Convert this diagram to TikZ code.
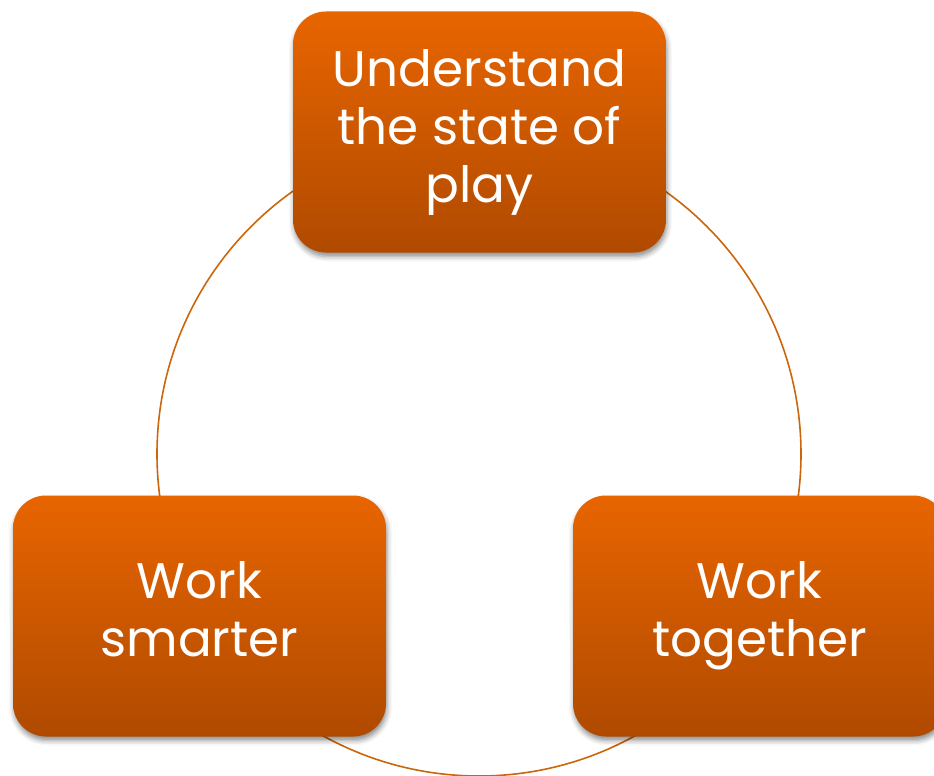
\documentclass[tikz,border=0pt]{standalone}
\usepackage{fontspec}
\setmainfont{Poppins}
\usetikzlibrary{shadows.blur}
\definecolor{boxtop}{RGB}{232,101,0}
\definecolor{boxbot}{RGB}{176,74,0}
\definecolor{ringcol}{RGB}{204,102,10}
\tikzset{
  cyclebox/.style={rectangle, rounded corners=33pt, minimum width=373pt, minimum height=241pt,
    inner sep=0pt, top color=boxtop, bottom color=boxbot, text=white, align=center,
    font=\fontsize{50}{58}\selectfont,
    blur shadow={shadow xshift=1pt, shadow yshift=-4pt, shadow blur radius=5pt, shadow opacity=45}},
  ring/.style={draw=ringcol, line width=1.6pt}
}
\begin{document}
\begin{tikzpicture}[x=1pt,y=-1pt]
\useasboundingbox (0,0) rectangle (934,776);
\clip (0,0) rectangle (934,776);
\coordinate (c) at (479,454);
\draw[ring] (c) circle[radius=322pt];
\node[cyclebox] (top) at (479.5,132) {Understand\\the state of\\play};
\node[cyclebox] (left) at (199.5,616) {Work\\smarter\vphantom{g}};
\node[cyclebox] (right) at (759.5,616) {Work\\together};
\end{tikzpicture}
\end{document}
